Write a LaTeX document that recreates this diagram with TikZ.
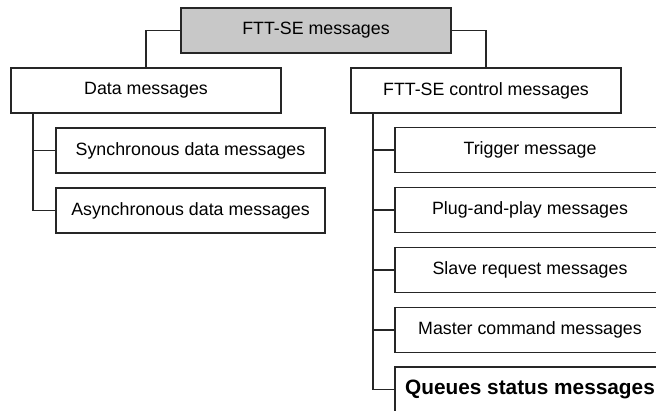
\documentclass[tikz,border=0pt]{standalone}
\usepackage{fontspec}
\setmainfont{Liberation Sans}
\begin{document}
\begin{tikzpicture}[x=1pt,y=-1pt,
  line width=1.2pt,
  box/.style={draw=black!85, fill=white, minimum height=45pt, inner sep=0pt,
    font=\fontsize{17.8}{20}\selectfont},
  wide/.style={box, minimum width=270pt},
  conn/.style={draw=black!85, line width=1.2pt}]
\useasboundingbox (0,0) rectangle (656,410);
\clip (0,0) rectangle (656,410);
\node[wide, fill={rgb,255:red,200;green,200;blue,200}] (top) at (316,30.5) {FTT-SE messages};
\node[wide] (data) at (146,90.5) {Data messages};
\node[wide] (ctrl) at (486,90.5) {FTT-SE control messages};
\node[box, minimum width=269pt] (sync) at (190.5,150.5) {Synchronous data messages};
\node[box, minimum width=269pt] (async) at (190.5,210.5) {Asynchronous data messages};
\node[wide] (trig) at (530,150) {Trigger message};
\node[wide] (plug) at (530,210) {Plug-and-play messages};
\node[wide] (slave) at (530,270) {Slave request messages};
\node[wide] (master) at (530,330) {Master command messages};
\node[wide, line width=2.6pt, font=\fontsize{20.8}{24}\selectfont\bfseries] (queues) at (530,389.5) {Queues status messages};
\coordinate (dt) at (33,113);
\coordinate (ct) at (373,113);
\draw[conn] (top.west) -| (data.north);
\draw[conn] (top.east) -| (ctrl.north);
\draw[conn] (dt) |- (async.west);
\draw[conn] (sync.west) -- (sync.west -| dt);
\draw[conn] (ct) |- (queues.west);
\draw[conn] (trig.west) -- (trig.west -| ct);
\draw[conn] (plug.west) -- (plug.west -| ct);
\draw[conn] (slave.west) -- (slave.west -| ct);
\draw[conn] (master.west) -- (master.west -| ct);
\end{tikzpicture}
\end{document}
